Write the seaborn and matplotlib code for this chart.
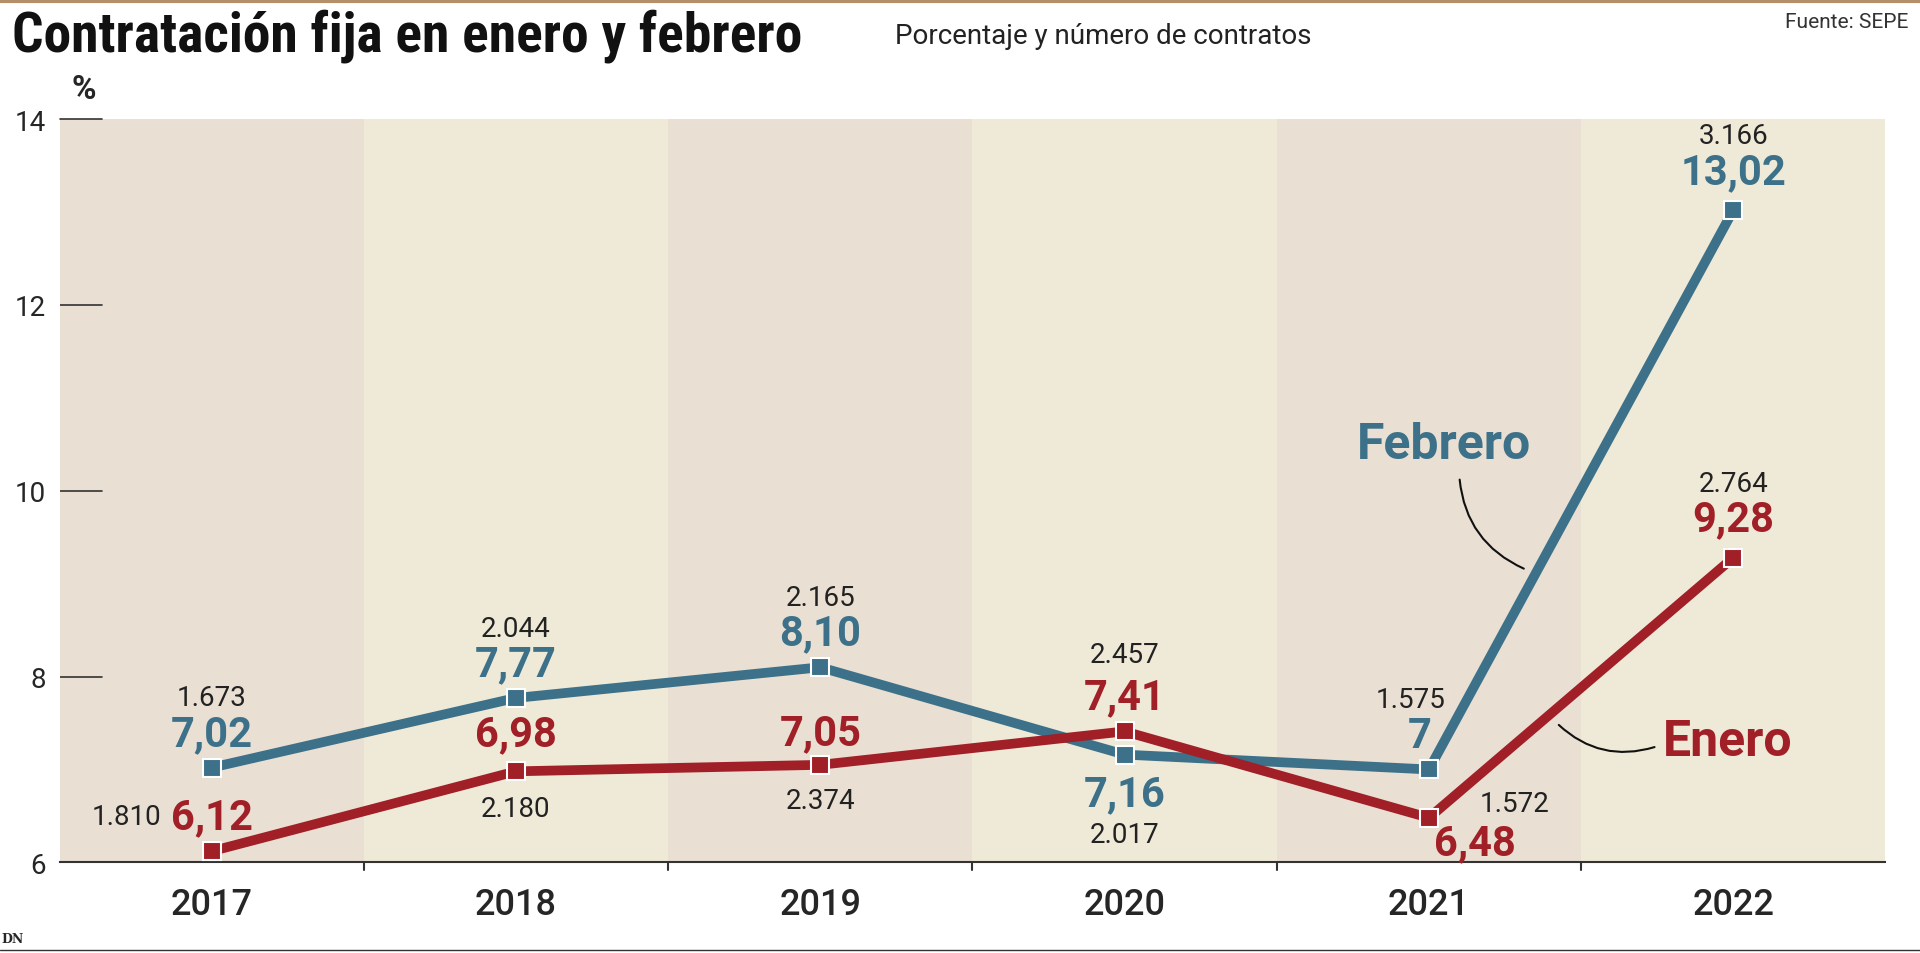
import matplotlib
matplotlib.use("Agg")
import matplotlib.pyplot as plt
import seaborn as sns
import pandas as pd

years = ["2017", "2018", "2019", "2020", "2021", "2022"]
febrero = [7.02, 7.77, 8.10, 7.16, 7.00, 13.02]
enero = [6.12, 6.98, 7.05, 7.41, 6.48, 9.28]
feb_lbl = ["7,02", "7,77", "8,10", "7,16", "7", "13,02"]
ene_lbl = ["6,12", "6,98", "7,05", "7,41", "6,48", "9,28"]
feb_n = ["1.673", "2.044", "2.165", "2.017", "1.575", "3.166"]
ene_n = ["1.810", "2.180", "2.374", "2.457", "1.572", "2.764"]
yticks = [6, 8, 10, 12, 14]

sns.set_theme(style="white")
plt.rcParams['font.family'] = ['Roboto', 'DejaVu Sans']

blue = "#3c7189"
red = "#a11f27"
df = pd.DataFrame({"x": list(range(6)) * 2, "y": febrero + enero,
                   "s": ["Febrero"] * 6 + ["Enero"] * 6})

fig = plt.figure(figsize=(19.2, 9.54), dpi=100)
ax = fig.add_axes([0.031, 0.095, 0.951, 0.779])
for i in range(6):
    ax.axvspan(i - 0.5, i + 0.5, color="#e9dfd3" if i % 2 == 0 else "#efead7", lw=0, zorder=0)
sns.lineplot(data=df, x="x", y="y", hue="s", palette={"Febrero": blue, "Enero": red},
             lw=7, marker="s", markersize=13, markeredgecolor="white", markeredgewidth=1.5,
             legend=False, ax=ax, zorder=3)
ax.set_xlim(-0.5, 5.5)
ax.set_ylim(6, 14)
ax.set_xlabel("")
ax.set_ylabel("")
ax.set_yticks(yticks)
ax.set_yticklabels([str(v) for v in yticks], fontsize=20)
ax.set_xticks(range(6))
ax.set_xticklabels(years, fontsize=26, fontweight="medium")
ax.tick_params(axis="y", length=0, pad=10)
ax.tick_params(axis="x", length=0, pad=18)
for s in ["top", "right", "left"]:
    ax.spines[s].set_visible(False)
ax.spines["bottom"].set_color("#333333")
ax.spines["bottom"].set_linewidth(1.5)
for i in range(1, 6):
    ax.plot([i - 0.5, i - 0.5], [6, 5.92], color="#333333", lw=1.5, clip_on=False)
for v in yticks[:-1]:
    ax.plot([-0.5, -0.36], [v, v], color="#333333", lw=1.2)
ax.plot([-0.5, -0.36], [14, 14], color="#333333", lw=1.2, clip_on=False)
ax.text(-0.42, 14.15, "%", fontsize=24, fontweight="bold", ha="center", va="bottom")

fpos = [(0.37, 0.75), (0.37, 0.75), (0.37, 0.75), (-0.42, -0.86), (0.37, 0.75), (0.42, 0.8)]
epos = [(0.37, 0.37), (0.4, -0.4), (0.35, -0.38), (0.37, 0.83), (-0.22, 0.15), (0.42, 0.8)]
for i in range(6):
    fx = i - 0.03 if i == 4 else i
    ax.text(fx, febrero[i] + fpos[i][0], feb_lbl[i], color=blue, fontsize=30, fontweight="bold",
            ha="center", va="center")
    ax.text(fx - (0.03 if i == 4 else 0), febrero[i] + fpos[i][1], feb_n[i], color="#222222",
            fontsize=20, ha="center", va="center")
for i in range(6):
    yv = enero[i] + epos[i][0] if i != 4 else enero[i] - 0.27
    ax.text(i + (0.15 if i == 4 else 0), yv, ene_lbl[i], color=red, fontsize=30, fontweight="bold",
            ha="center", va="center")
    if i == 0:
        ax.text(-0.28, enero[i] + 0.37, ene_n[i], color="#222222", fontsize=20, ha="center", va="center")
    elif i == 4:
        ax.text(4.28, enero[i] + 0.15, ene_n[i], color="#222222", fontsize=20, ha="center", va="center")
    else:
        ax.text(i, enero[i] + epos[i][1], ene_n[i], color="#222222", fontsize=20, ha="center", va="center")

ax.text(4.05, 10.5, "Febrero", color=blue, fontsize=36, fontweight="bold", ha="center", va="center")
ax.annotate("", xy=(4.32, 9.15), xytext=(4.1, 10.15),
            arrowprops=dict(arrowstyle="-", color="#111111", lw=1.5, connectionstyle="arc3,rad=0.3"))
ax.text(4.98, 7.3, "Enero", color=red, fontsize=36, fontweight="bold", ha="center", va="center")
ax.annotate("", xy=(4.42, 7.5), xytext=(4.75, 7.25),
            arrowprops=dict(arrowstyle="-", color="#111111", lw=1.5, connectionstyle="arc3,rad=-0.3"))

fig.text(0.006, 0.962, "Contratación fija en enero y febrero", fontsize=40, fontweight="bold",
         family=['Roboto Condensed', 'Roboto', 'DejaVu Sans'], va="center", color="#111111")
fig.text(0.466, 0.962, "Porcentaje y número de contratos", fontsize=20, va="center", color="#222222")
fig.text(0.994, 0.976, "Fuente: SEPE", fontsize=15, ha="right", va="center", color="#333333")
fig.text(0.001, 0.012, "DN", fontsize=9, fontweight="bold", family="DejaVu Serif")
fig.add_artist(plt.Line2D([0, 1], [0.998, 0.998], color="#b58e6a", lw=3))
fig.add_artist(plt.Line2D([0, 1], [0.003, 0.003], color="#333333", lw=1))
fig.savefig("out.png", dpi=100)
